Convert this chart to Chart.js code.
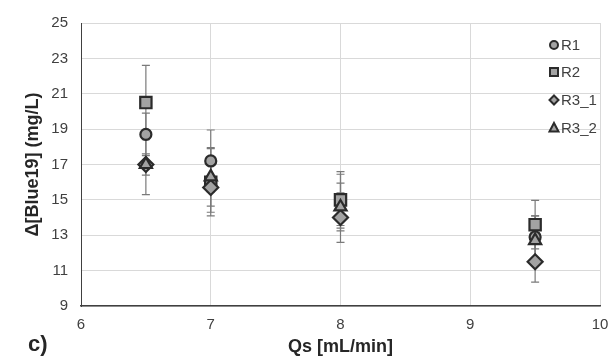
<!DOCTYPE html>
<html><head><meta charset="utf-8">
<script src="https://cdn.jsdelivr.net/npm/chart.js@4/dist/chart.umd.min.js"></script>
<style>html,body{margin:0;padding:0;background:#fff}#wrap{width:611px;height:356px;position:relative}</style>
</head><body><div id="wrap"><canvas id="c" width="611" height="356"></canvas></div>
<script>
const qs = [6.5, 7, 8, 9.5];
const seriesNames = ['R1', 'R2', 'R3_1', 'R3_2'];
const r1 = [18.7, 17.2, 15.0, 12.9];
const r2 = [20.5, 16.0, 15.0, 13.6];
const r3_1 = [17.0, 15.7, 14.0, 11.5];
const r3_2 = [17.0, 16.3, 14.6, 12.7];
const r1Err = [1.2, 1.75, 1.45, 1.2];
const r2Err = [2.1, 1.9, 1.6, 1.37];
const r3_1Err = [1.7, 1.4, 1.4, 1.15];
const r3_2Err = [0.6, 1.65, 1.35, 1.4];
const xTicks = [6, 7, 8, 9, 10];
const yTicks = [9, 11, 13, 15, 17, 19, 21, 23, 25];

const values = [r1, r2, r3_1, r3_2];
const errs = [r1Err, r2Err, r3_1Err, r3_2Err];
const styles = ['circle', 'rect', 'rectRot', 'triangle'];
const radii = [5.5, 8, 7.5, 7];
const FONT = "'Liberation Sans', Arial, sans-serif";

const datasets = seriesNames.map((n, i) => ({
  label: n,
  data: qs.map((x, j) => ({x: x, y: values[i][j]})),
  errs: errs[i],
  pointStyle: styles[i],
  pointRadius: radii[i],
  pointHoverRadius: radii[i],
  backgroundColor: '#a3a3a3',
  borderColor: '#2b2b2b',
  pointBorderWidth: 2.2,
  showLine: false,
  order: 4 - i
}));

const errorBars = {
  id: 'errorBars',
  beforeDatasetsDraw(chart) {
    const {ctx, scales: {x, y}} = chart;
    ctx.save();
    ctx.strokeStyle = '#7a7a7a';
    ctx.lineWidth = 1.2;
    chart.data.datasets.forEach(ds => {
      ds.data.forEach((p, j) => {
        const e = ds.errs[j];
        const px = x.getPixelForValue(p.x);
        const top = y.getPixelForValue(p.y + e);
        const bot = y.getPixelForValue(p.y - e);
        ctx.beginPath();
        ctx.moveTo(px, top); ctx.lineTo(px, bot);
        ctx.moveTo(px - 4, top); ctx.lineTo(px + 4, top);
        ctx.moveTo(px - 4, bot); ctx.lineTo(px + 4, bot);
        ctx.stroke();
      });
    });
    ctx.restore();
  }
};

const customLegend = {
  id: 'customLegend',
  afterDraw(chart) {
    const {ctx} = chart;
    const rows = [45, 72, 100, 128];
    ctx.save();
    chart.data.datasets.forEach((ds, i) => {
      const yy = rows[i];
      const cx = 554;
      const r = i === 2 ? 4.5 : 4;
      ctx.fillStyle = '#a3a3a3';
      ctx.strokeStyle = '#2b2b2b';
      ctx.lineWidth = 2;
      ctx.beginPath();
      if (ds.pointStyle === 'circle') { ctx.arc(cx, yy, r, 0, Math.PI*2); }
      else if (ds.pointStyle === 'rect') { ctx.rect(cx - r, yy - r, 2*r, 2*r); }
      else if (ds.pointStyle === 'rectRot') { ctx.moveTo(cx, yy - r); ctx.lineTo(cx + r, yy); ctx.lineTo(cx, yy + r); ctx.lineTo(cx - r, yy); ctx.closePath(); }
      else { ctx.moveTo(cx, yy - r - 1); ctx.lineTo(cx + r + 0.5, yy + r - 0.5); ctx.lineTo(cx - r - 0.5, yy + r - 0.5); ctx.closePath(); }
      ctx.fill(); ctx.stroke();
      ctx.fillStyle = '#404040';
      ctx.font = '15px ' + FONT;
      ctx.textBaseline = 'middle';
      ctx.textAlign = 'left';
      ctx.fillText(ds.label, 561, yy + 1);
    });
    ctx.font = 'bold 22px ' + FONT;
    ctx.fillStyle = '#262626';
    ctx.textBaseline = 'alphabetic';
    ctx.textAlign = 'left';
    ctx.fillText('c)', 28, 351);
    ctx.restore();
  }
};

new Chart(document.getElementById('c'), {
  type: 'scatter',
  data: {datasets},
  options: {
    responsive: false,
    animation: false,
    events: [],
    layout: {padding: {left: 0, right: 11, top: 23, bottom: 0}},
    plugins: {legend: {display: false}, tooltip: {enabled: false}},
    scales: {
      x: {
        type: 'linear', min: 6, max: 10,
        afterBuildTicks(s) { s.ticks = xTicks.map(v => ({value: v})); },
        afterFit(s) { s.height = 50; s.paddingLeft = 0; s.paddingRight = 0; },
        grid: {color: '#d9d9d9', lineWidth: 1, drawTicks: false},
        border: {color: '#404040', width: 1.5},
        ticks: {font: {family: FONT, size: 15}, color: '#404040', padding: 10, maxRotation: 0},
        title: {display: true, text: 'Qs [mL/min]', font: {family: FONT, size: 18, weight: 'bold', lineHeight: 1}, color: '#262626', padding: {top: 0, bottom: 0}}
      },
      y: {
        type: 'linear', min: 9, max: 25,
        afterBuildTicks(s) { s.ticks = yTicks.map(v => ({value: v})); },
        afterFit(s) { s.width = 81; s.paddingTop = 0; s.paddingBottom = 0; },
        grid: {color: '#d9d9d9', lineWidth: 1, drawTicks: false},
        border: {color: '#404040', width: 1},
        ticks: {font: {family: FONT, size: 15}, color: '#404040', padding: 13},
        title: {display: true, text: 'Δ[Blue19] (mg/L)', font: {family: FONT, size: 18, weight: 'bold', lineHeight: 1}, color: '#262626', padding: {top: 24, bottom: 0}}
      }
    }
  },
  plugins: [errorBars, customLegend]
});
</script></body></html>
